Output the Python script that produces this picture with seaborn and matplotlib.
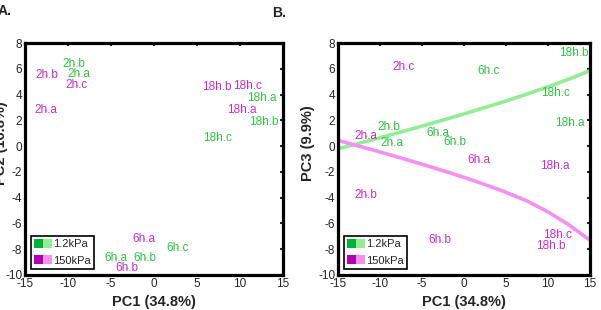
#!/usr/bin/env python
# coding: utf-8

# # PCA score plots, 1.2kPa vs 150kPa substrates

import matplotlib

matplotlib.use("Agg")
import matplotlib.pyplot as plt
import pandas as pd
import seaborn as sns
from matplotlib.legend_handler import HandlerTuple
from matplotlib.patches import Patch

# sample labels (one sample per time point missing in each group)
soft_samples = ["2h.a", "2h.b", "6h.a", "6h.b", "6h.c", "18h.a", "18h.b", "18h.c"]
stiff_samples = ["2h.a", "2h.b", "2h.c", "6h.a", "6h.b", "18h.a", "18h.b", "18h.c"]

# panel A: PC1 vs PC2 (label positions)
soft_pc1_a = [-8.7, -9.3, -4.4, -1.0, 2.7, 12.5, 12.8, 7.4]
soft_pc2_a = [5.57, 6.35, -8.72, -8.72, -7.94, 3.74, 1.85, 0.66]
stiff_pc1_a = [-12.6, -12.5, -9.0, -1.2, -3.1, 10.2, 7.3, 10.9]
stiff_pc2_a = [2.78, 5.5, 4.77, -7.2, -9.44, 2.78, 4.6, 4.67]

# panel B: PC1 vs PC3
soft_pc1_b = [-8.6, -8.9, -3.1, -1.1, 2.9, 12.6, 13.1, 10.9]
soft_pc3_b = [0.22, 1.46, 1.02, 0.3, 5.82, 1.78, 7.22, 4.14]
stiff_pc1_b = [-11.7, -11.7, -7.2, 1.8, -2.9, 10.8, 10.3, 11.2]
stiff_pc3_b = [0.82, -3.77, 6.18, -1.05, -7.3, -1.57, -7.74, -6.91]

# trend lines in panel B
fit_pc1 = [-15, -12.5, -10, -7.5, -5, -2.5, 0, 2.5, 5, 7.5, 10, 12.5, 15]
fit_soft = [-0.2, 0.22, 0.65, 1.1, 1.55, 2.02, 2.5, 3.0, 3.5, 4.04, 4.6, 5.2, 5.85]
fit_stiff = [0.45, 0.0, -0.45, -0.92, -1.4, -1.9, -2.42, -2.98, -3.58, -4.25,
             -5.1, -6.1, -7.3]

groups = ["1.2kPa", "150kPa"]
text_colors = {"1.2kPa": "#2cc63e", "150kPa": "#c92ccc"}
dark_colors = {"1.2kPa": "#00b23a", "150kPa": "#b000b0"}
light_colors = {"1.2kPa": "#92ee92", "150kPa": "#f590f2"}

sns.set_style("white")
plt.rcParams["font.family"] = ["Liberation Sans", "DejaVu Sans"]
plt.rcParams["axes.unicode_minus"] = False


def make_frame(x_soft, y_soft, x_stiff, y_stiff):
    soft = pd.DataFrame(
        {"x": x_soft, "y": y_soft, "label": soft_samples, "group": groups[0]}
    )
    stiff = pd.DataFrame(
        {"x": x_stiff, "y": y_stiff, "label": stiff_samples, "group": groups[1]}
    )
    return pd.concat([soft, stiff], ignore_index=True)


def draw_panel(ax, data, ylabel, ylabel_x):
    sns.scatterplot(
        data=data,
        x="x",
        y="y",
        color="#f4a0a0",
        s=2,
        linewidth=0,
        legend=False,
        ax=ax,
    )
    for _, row in data.iterrows():
        ax.text(
            row["x"],
            row["y"],
            row["label"],
            color=text_colors[row["group"]],
            fontsize=8.5,
            ha="center",
            va="center",
        )
    ax.set_xlim(-15, 15)
    ax.set_ylim(-10, 8)
    ax.set_xticks(range(-15, 16, 5))
    ax.set_yticks(range(-10, 9, 2))
    ax.tick_params(
        direction="in",
        top=True,
        right=True,
        length=2.5,
        width=1.5,
        labelsize=8.5,
        pad=2,
    )
    for spine in ax.spines.values():
        spine.set_linewidth(2.3)
        spine.set_color("black")
    ax.set_xlabel("PC1 (34.8%)", fontsize=10.5, fontweight="bold", labelpad=4)
    ax.set_ylabel(ylabel, fontsize=10.5, fontweight="bold")
    ax.yaxis.set_label_coords(ylabel_x, 0.57)
    handles = [
        (
            Patch(facecolor=dark_colors[g], edgecolor="none"),
            Patch(facecolor=light_colors[g], edgecolor="none"),
        )
        for g in groups
    ]
    leg = ax.legend(
        handles,
        groups,
        handler_map={tuple: HandlerTuple(ndivide=None, pad=0)},
        loc="lower left",
        fontsize=8,
        handlelength=1.6,
        handleheight=0.8,
        handletextpad=0.1,
        borderaxespad=0.55,
        borderpad=0.3,
        labelspacing=0.55,
        fancybox=False,
        framealpha=1,
    )
    leg.get_frame().set_edgecolor("black")
    leg.get_frame().set_linewidth(1.2)


fig = plt.figure(figsize=(6.01, 3.10), dpi=100)
ax_a = fig.add_axes([0.0416, 0.113, 0.429, 0.748])
ax_b = fig.add_axes([0.5624, 0.113, 0.419, 0.748])

data_a = make_frame(soft_pc1_a, soft_pc2_a, stiff_pc1_a, stiff_pc2_a)
data_b = make_frame(soft_pc1_b, soft_pc3_b, stiff_pc1_b, stiff_pc3_b)

fits = pd.concat(
    [
        pd.DataFrame({"x": fit_pc1, "y": fit_soft, "group": groups[0]}),
        pd.DataFrame({"x": fit_pc1, "y": fit_stiff, "group": groups[1]}),
    ]
)
sns.lineplot(
    data=fits,
    x="x",
    y="y",
    hue="group",
    palette=light_colors,
    linewidth=2.6,
    legend=False,
    ax=ax_b,
)

draw_panel(ax_a, data_a, "PC2 (16.8%)", -0.066)
draw_panel(ax_b, data_b, "PC3 (9.9%)", -0.092)

fig.text(-0.004, 0.965, "A.", fontsize=10, fontweight="bold", ha="left", va="center")
fig.text(0.452, 0.958, "B.", fontsize=10, fontweight="bold", ha="left", va="center")

fig.savefig("out.png", dpi=100)
